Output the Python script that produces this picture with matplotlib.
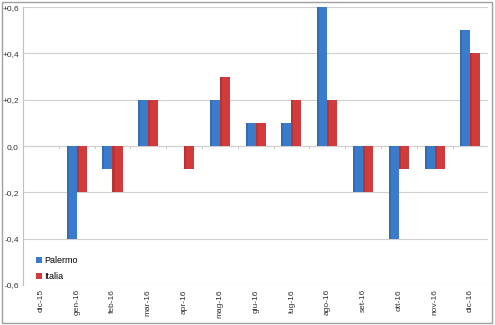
import matplotlib.pyplot as plt
import numpy as np
from matplotlib.patches import Rectangle

months = ['dic-15', 'gen-16', 'feb-16', 'mar-16', 'apr-16', 'mag-16', 'giu-16',
          'lug-16', 'ago-16', 'set-16', 'ott-16', 'nov-16', 'dic-16']
palermo = [0.0, -0.4, -0.1, 0.2, 0.0, 0.2, 0.1, 0.1, 0.6, -0.2, -0.4, -0.1, 0.5]
italia = [0.0, -0.2, -0.2, 0.2, -0.1, 0.3, 0.1, 0.2, 0.2, -0.2, -0.1, -0.1, 0.4]
yticks = [-0.6, -0.4, -0.2, 0.0, 0.2, 0.4, 0.6]
ylabels = ['-0,6', '-0,4', '-0,2', '0,0', '+0,2', '+0,4', '+0,6']

plt.rcParams['font.family'] = ['Liberation Sans', 'DejaVu Sans']

fig = plt.figure(figsize=(4.95, 3.25), dpi=100)
ax = fig.add_axes([0.0465, 0.123, 0.94, 0.855])

x = np.arange(len(months))
w = 0.28
ax.bar(x - w / 2, palermo, w, color='#3b7bcc', linewidth=0, label='Palermo', zorder=3)
ax.bar(x + w / 2, italia, w, color='#d23b3b', linewidth=0, label='Italia', zorder=3)

# darker left stripe, like the shaded bars in the original
for vals, dark in [(palermo, '#2a5c9e'), (italia, '#9e2a2a')]:
    off = -w / 2 if dark == '#2a5c9e' else w / 2
    ax.bar(x + off - w / 2 + w * 0.1, vals, w * 0.2, color=dark, linewidth=0,
           alpha=0.45, zorder=4)

ax.set_xlim(-0.5, len(months) - 0.5)
ax.set_ylim(-0.6, 0.6)
ax.set_yticks(yticks)
ax.set_yticklabels(ylabels, fontsize=6, color='#333333')
ax.set_xticks(x)
ax.set_xticklabels(months, rotation=90, fontsize=6, color='#333333')
ax.tick_params(axis='both', length=0, pad=3)
ax.grid(axis='y', color='#d0d0d0', linewidth=0.8, zorder=0)
ax.axhline(0, color='#bfbfbf', linewidth=0.8, zorder=1)
for b in np.arange(-0.5, len(months), 1.0):
    ax.plot([b, b], [0, -0.008], color='#bfbfbf', linewidth=0.6, zorder=1)

for s in ['top', 'right', 'bottom']:
    ax.spines[s].set_visible(False)
ax.spines['left'].set_color('#bfbfbf')

leg = ax.legend(loc='lower left', bbox_to_anchor=(0.01, -0.015), frameon=False,
                fontsize=6.5, handlelength=0.7, handleheight=0.7, handletextpad=0.2,
                labelspacing=0.8)

fig.patches.append(Rectangle((0.004, 0.006), 0.99, 0.988, transform=fig.transFigure,
                             fill=False, edgecolor='#a0a0a0', linewidth=1.0))

fig.savefig('out.png', dpi=100)
